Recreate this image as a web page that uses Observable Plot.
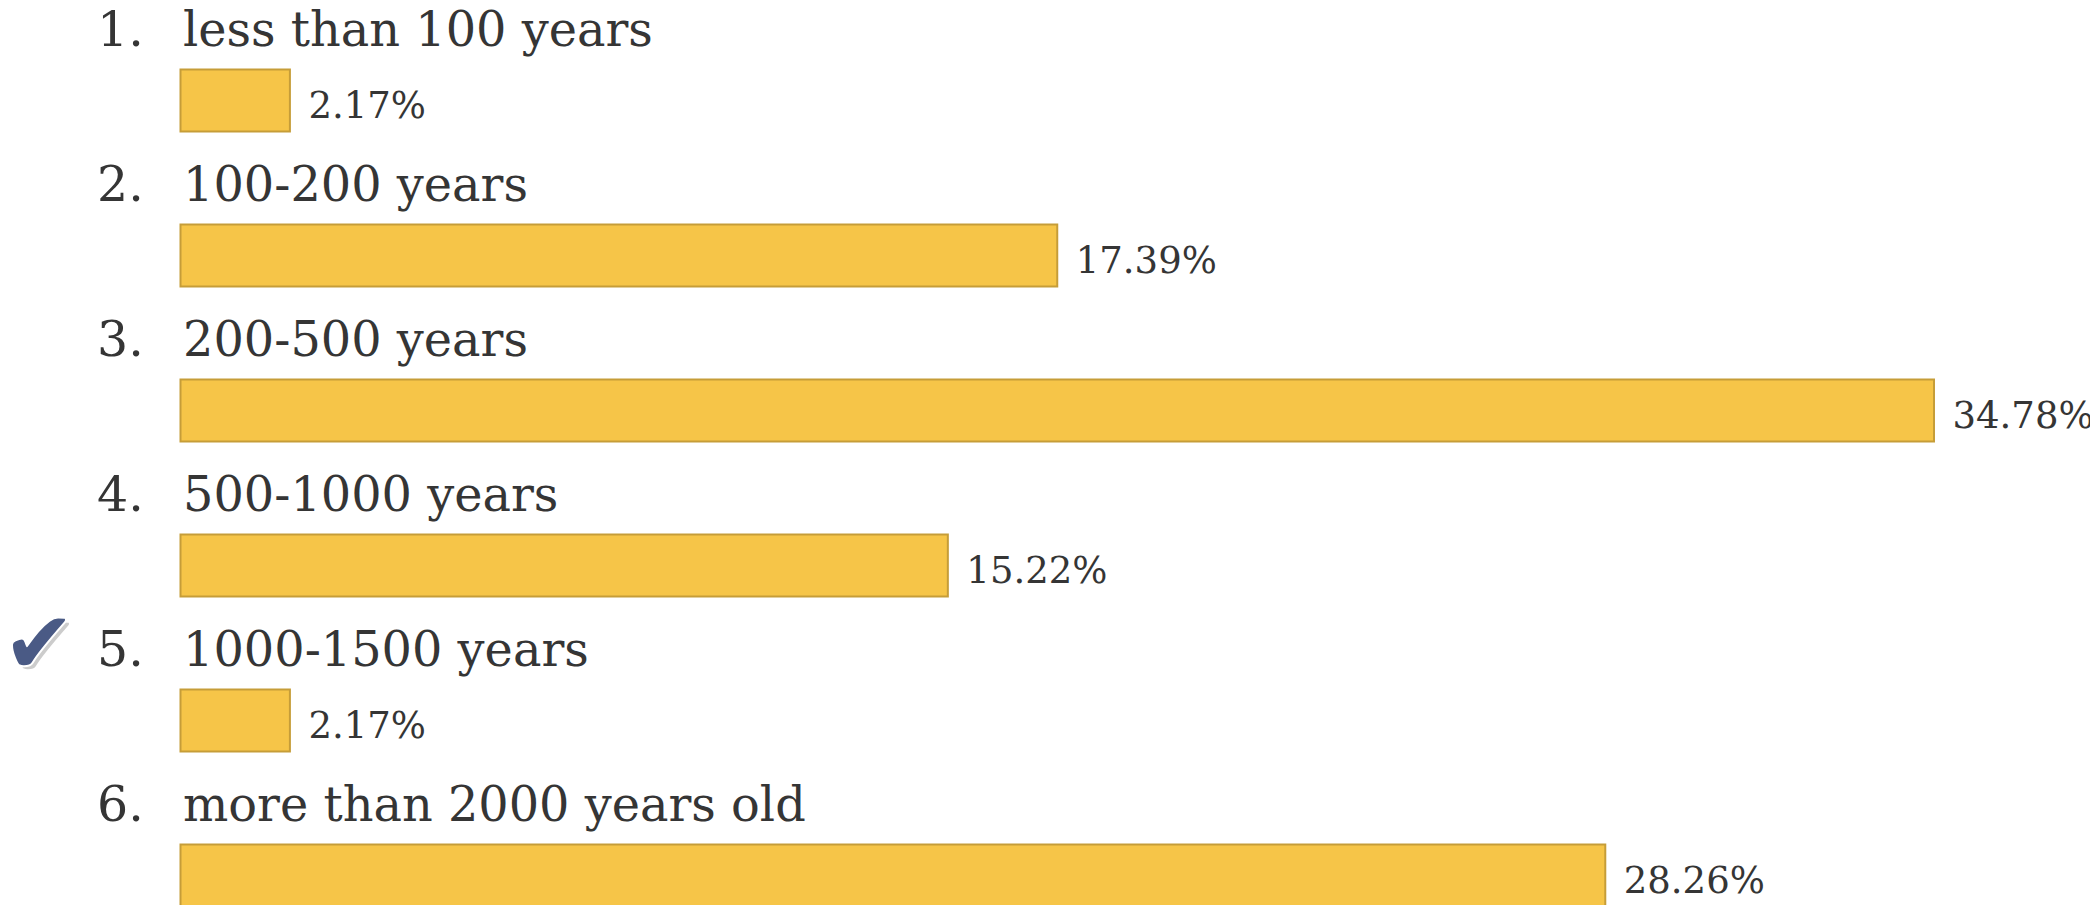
<!DOCTYPE html>
<html>
<head>
<meta charset="utf-8">
<script src="https://cdn.jsdelivr.net/npm/d3@7"></script>
<script src="https://cdn.jsdelivr.net/npm/@observablehq/plot@0.6"></script>
<style>
  html, body { margin: 0; padding: 0; background: #ffffff; }
  #chart svg { display: block; }
</style>
</head>
<body>
<div id="chart"></div>
<script>
const numbers = ["1.", "2.", "3.", "4.", "5.", "6."];
const categories = ["less than 100 years", "100-200 years", "200-500 years", "500-1000 years", "1000-1500 years", "more than 2000 years old"];
const values = [2.17, 17.39, 34.78, 15.22, 2.17, 28.26];
const valueLabels = ["2.17%", "17.39%", "34.78%", "15.22%", "2.17%", "28.26%"];
const correct = [false, false, false, false, true, false];

const data = categories.map((c, i) => ({
  num: numbers[i], category: c, value: values[i], label: valueLabels[i], correct: correct[i]
}));
const marked = data.filter(d => d.correct);

const serif = "DejaVu Serif";
const textColor = "#353535";

const chart = Plot.plot({
  width: 2090,
  height: 905,
  margin: 0,
  style: { background: "#ffffff", fontFamily: serif },
  x: { domain: [0, 34.78], range: [180.5, 1934], axis: null },
  y: { type: "band", domain: categories, range: [69.5, 906.5], paddingInner: 0.6, paddingOuter: 0, round: false, axis: null },
  marks: [
    Plot.barX(data, { x: "value", y: "category", fill: "#F6C548", stroke: "#C69D38", strokeWidth: 2 }),
    Plot.text(data, { x: () => 0, y: "category", text: "num", textAnchor: "start", lineAnchor: "bottom", dx: -84, dy: -55, fontSize: 49, fill: textColor, fontFamily: serif }),
    Plot.text(data, { x: () => 0, y: "category", text: "category", textAnchor: "start", lineAnchor: "bottom", dx: 2, dy: -55, fontSize: 47.8, fill: textColor, fontFamily: serif }),
    Plot.text(data, { x: "value", y: "category", text: "label", textAnchor: "start", lineAnchor: "bottom", dx: 18, dy: 17, fontSize: 37, fill: textColor, fontFamily: serif }),
    Plot.text(marked, { x: () => 0, y: "category", text: () => "\u2714", textAnchor: "start", lineAnchor: "bottom", dx: -174, dy: -44, fontSize: 86, fill: "#8f8f8f", fillOpacity: 0.45, fontFamily: "DejaVu Sans" }),
    Plot.text(marked, { x: () => 0, y: "category", text: () => "\u2714", textAnchor: "start", lineAnchor: "bottom", dx: -178, dy: -48, fontSize: 86, fill: "#4A5A85", stroke: "#ffffff", strokeWidth: 4, fontFamily: "DejaVu Sans" })
  ]
});
document.getElementById("chart").appendChild(chart);
</script>
</body>
</html>
